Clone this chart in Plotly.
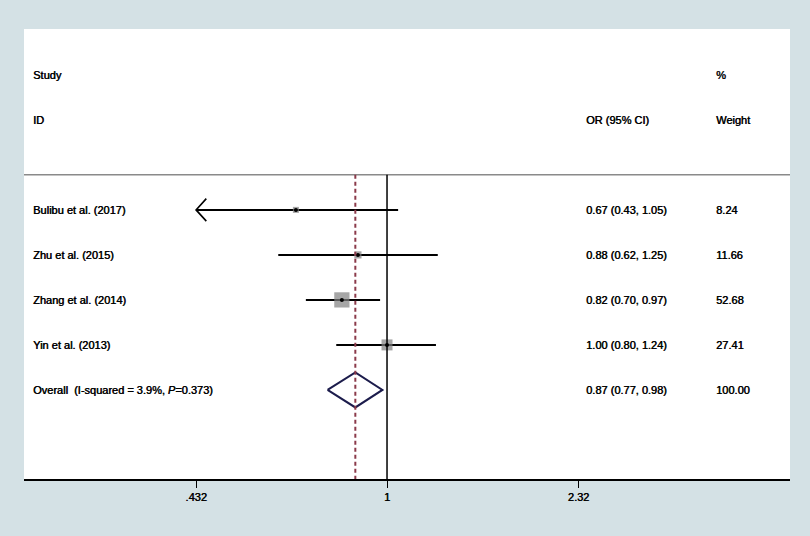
import math
import plotly.graph_objects as go

# ---- data ----
studies = ["Bulibu et al. (2017)", "Zhu et al. (2015)", "Zhang et al. (2014)", "Yin et al. (2013)"]
or_est = [0.67, 0.88, 0.82, 1.00]
ci_low = [0.43, 0.62, 0.70, 0.80]
ci_high = [1.05, 1.25, 0.97, 1.24]
weights = [8.24, 11.66, 52.68, 27.41]
overall_label = "Overall  (I-squared = 3.9%, <i>P</i>=0.373)"
overall_or = 0.87
overall_low = 0.77
overall_high = 0.98
overall_weight = 100.00
tick_vals = [0.432, 1, 2.32]
tick_text = [".432", "1", "2.32"]

FONT = "Liberation Sans, Arial, sans-serif"
TXT = "#000000"
SHADOW = "0.5px 0px 0px #000000"
BG = "#d4e1e5"

rows = list(range(1, len(studies) + 1))
overall_row = len(studies) + 1
axis_min = tick_vals[0]

fig = go.Figure()

# CI lines (clipped at axis min)
xs, ys = [], []
for r, lo, hi in zip(rows, ci_low, ci_high):
    xs += [max(lo, axis_min), hi, None]
    ys += [r, r, None]
fig.add_trace(go.Scatter(x=xs, y=ys, mode="lines", line=dict(color="black", width=2),
                         hoverinfo="skip", showlegend=False))

# arrows for clipped CIs
ax, ay = [], []
for r, lo in zip(rows, ci_low):
    if lo < axis_min:
        tip = axis_min
        arm = tip * math.exp(0.045)
        ax += [arm, tip, arm, None]
        ay += [r - 0.25, r, r + 0.25, None]
fig.add_trace(go.Scatter(x=ax, y=ay, mode="lines", line=dict(color="black", width=1.6),
                         hoverinfo="skip", showlegend=False))

# weight boxes
fig.add_trace(go.Scatter(x=or_est, y=rows, mode="markers",
                         marker=dict(symbol="square", color="#808080",
                                     size=[2.1 * math.sqrt(w) for w in weights],
                                     line=dict(width=0)),
                         hoverinfo="skip", showlegend=False))
# point estimates
fig.add_trace(go.Scatter(x=or_est, y=rows, mode="markers",
                         marker=dict(symbol="circle", color="black", size=4),
                         hoverinfo="skip", showlegend=False))

# overall diamond
h = 0.39
fig.add_trace(go.Scatter(x=[overall_low, overall_or, overall_high, overall_or, overall_low],
                         y=[overall_row, overall_row - h, overall_row, overall_row + h, overall_row],
                         mode="lines", line=dict(color="#1c1c4c", width=2),
                         hoverinfo="skip", showlegend=False))

ytop, ybot = -3.02, 6.98
sep_y = 0.22

shapes = [
    dict(type="line", xref="paper", x0=0, x1=1, yref="y", y0=sep_y, y1=sep_y,
         line=dict(color="#8a8a8a", width=1.5)),
    dict(type="line", xref="x", x0=1, x1=1, yref="y", y0=sep_y, y1=ybot,
         line=dict(color="black", width=1.5)),
    dict(type="line", xref="x", x0=overall_or, x1=overall_or, yref="y", y0=sep_y, y1=ybot,
         line=dict(color="#8b3a4a", width=2, dash="4px,3px")),
]

annotations = []
def txt(x, y, s):
    annotations.append(dict(x=x, y=y, xref="paper", yref="y", text=s, showarrow=False,
                            xanchor="left", yanchor="middle",
                            font=dict(family=FONT, size=11, color=TXT, shadow=SHADOW)))

col_study, col_or, col_w = 0.0090, 0.7311, 0.9008
txt(col_study, -2, "Study")
txt(col_study, -1, "ID")
txt(col_or, -1, "OR (95% CI)")
txt(col_w, -2, "%")
txt(col_w, -1, "Weight")
for r, s, o, lo, hi, w in zip(rows, studies, or_est, ci_low, ci_high, weights):
    txt(col_study, r, s)
    txt(col_or, r, f"{o:.2f} ({lo:.2f}, {hi:.2f})")
    txt(col_w, r, f"{w:.2f}")
txt(col_study, overall_row, overall_label)
txt(col_or, overall_row, f"{overall_or:.2f} ({overall_low:.2f}, {overall_high:.2f})")
txt(col_w, overall_row, f"{overall_weight:.2f}")

fig.update_layout(
    width=810, height=536,
    margin=dict(l=24, r=20, t=29, b=57),
    paper_bgcolor=BG,
    plot_bgcolor="white",
    shapes=shapes,
    annotations=annotations,
    xaxis=dict(type="log", range=[-0.6930, 0.7693], tickvals=tick_vals, ticktext=tick_text,
               showgrid=False, zeroline=False, showline=True, linecolor="black", linewidth=1.5,
               ticks="outside", ticklen=7, tickwidth=1.3, tickcolor="black",
               tickfont=dict(family=FONT, size=11, color=TXT, shadow=SHADOW)),
    yaxis=dict(range=[ybot, ytop], showgrid=False, zeroline=False, showticklabels=False,
               showline=False, ticks=""),
)

fig.write_html("out.html", config={"displayModeBar": False},
               post_script="document.body.style.margin='0px';"
                           "document.body.style.background='" + BG + "';")
